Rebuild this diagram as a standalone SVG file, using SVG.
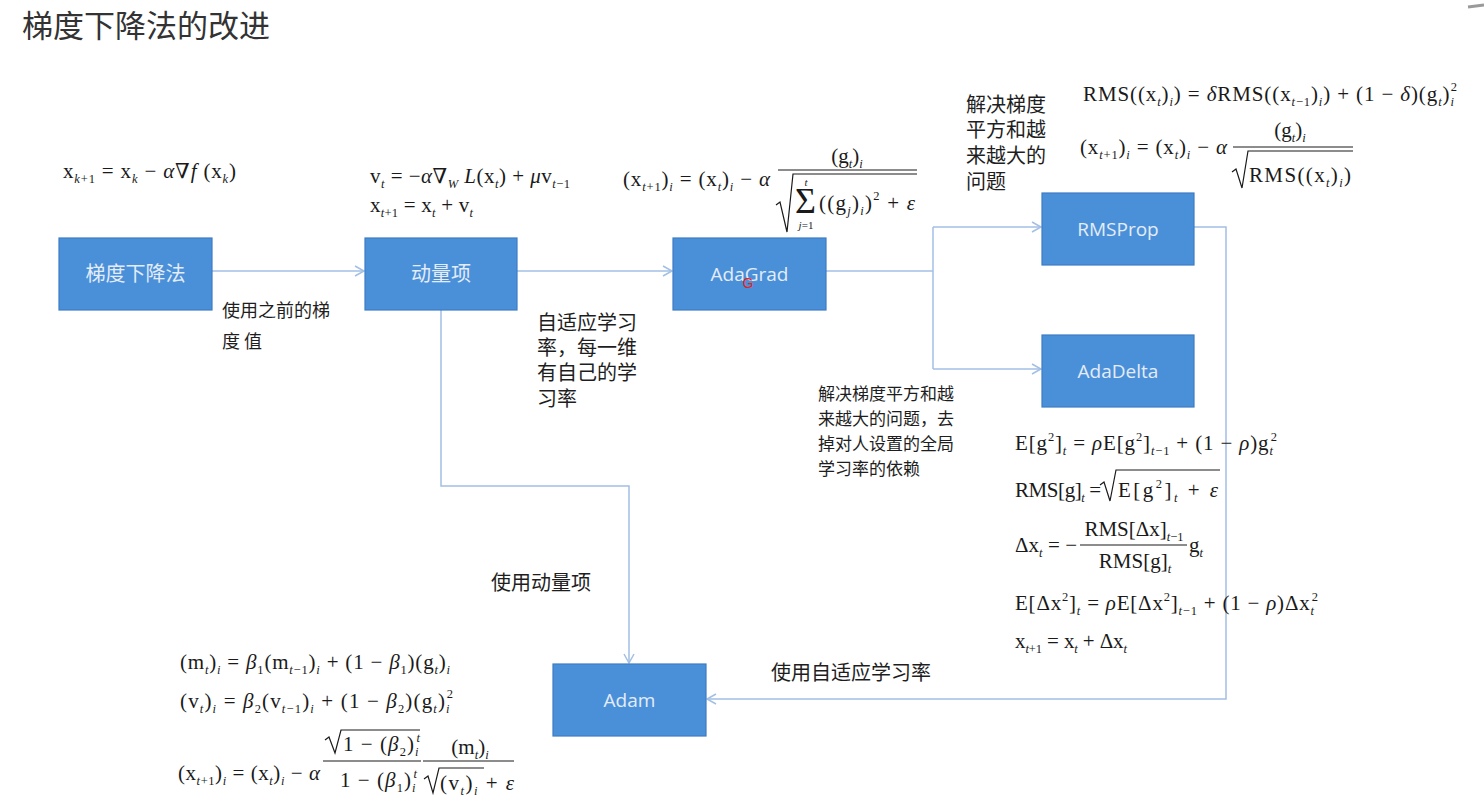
<svg xmlns="http://www.w3.org/2000/svg" width="1484" height="807" viewBox="0 0 1484 807">
<defs>
<style>
.bg{fill:#ffffff}
.box rect{fill:#4a90d9;stroke:#3d7cc3;stroke-width:1.2}
.bt{font-family:"Open Sans","Noto Sans","Noto Sans CJK SC",sans-serif;font-size:19px;fill:#e4ecf7;text-anchor:middle}
.btc{font-family:"Noto Sans CJK SC","Noto Sans",sans-serif;font-size:20px;fill:#e4ecf7;text-anchor:middle}
.lb{font-family:"Noto Sans CJK SC","Noto Sans",sans-serif;fill:#1e1e1e}
.conn{fill:none;stroke:#a3bfe4;stroke-width:1.5}
.m{font-family:"Liberation Serif","DejaVu Serif",serif;font-size:21px;fill:#1a1a1a}
.i{font-style:italic}
.s{font-size:12.5px;font-style:italic}
.n{font-size:12.5px;font-style:normal}
.ln{stroke:#1a1a1a;stroke-width:1.2;fill:none}
.title{font-family:"Noto Sans CJK SC","Noto Sans",sans-serif;font-size:31px;fill:#333333}
</style>
<marker id="arr" markerWidth="12" markerHeight="12" refX="10" refY="6" orient="auto" markerUnits="userSpaceOnUse">
<path d="M1,1 L10,6 L1,11" fill="none" stroke="#a3bfe4" stroke-width="1.5"/>
</marker>
</defs>
<rect class="bg" x="0" y="0" width="1484" height="807"/>
<path d="M1468,7 L1484,5" stroke="#9a9a9a" stroke-width="3"/>

<text class="title" x="22" y="37">梯度下降法的改进</text>

<g id="connectors">
<line class="conn" x1="212" y1="271" x2="364" y2="271" marker-end="url(#arr)"/>
<line class="conn" x1="517" y1="271" x2="672" y2="271" marker-end="url(#arr)"/>
<polyline class="conn" points="826,271 933,271"/>
<polyline class="conn" points="933,227 933,369"/>
<line class="conn" x1="933" y1="227" x2="1041" y2="227" marker-end="url(#arr)"/>
<line class="conn" x1="933" y1="369" x2="1041" y2="369" marker-end="url(#arr)"/>
<polyline class="conn" points="441,310 441,486 629,486 629,663" marker-end="url(#arr)"/>
<polyline class="conn" points="1194,227 1226,227 1226,699 707,699" marker-end="url(#arr)"/>
</g>

<g id="node-gd" class="box">
<rect x="59" y="238" width="153" height="72"/>
<text class="btc" x="135.5" y="281">梯度下降法</text>
</g>
<g id="node-momentum" class="box">
<rect x="365" y="238" width="152" height="72"/>
<text class="btc" x="441" y="281">动量项</text>
</g>
<g id="node-adagrad" class="box">
<rect x="673" y="238" width="153" height="72"/>
<text class="bt" x="749.5" y="281">AdaGrad</text>
<text x="748" y="288" font-family="Liberation Sans,sans-serif" font-size="14" fill="#e8201c" text-anchor="middle">G</text>
</g>
<g id="node-rmsprop" class="box">
<rect x="1042" y="193" width="152" height="72"/>
<text class="bt" x="1118" y="236">RMSProp</text>
</g>
<g id="node-adadelta" class="box">
<rect x="1042" y="335" width="152" height="72"/>
<text class="bt" x="1118" y="378">AdaDelta</text>
</g>
<g id="node-adam" class="box">
<rect x="553" y="664" width="153" height="72"/>
<text class="bt" x="629.5" y="707">Adam</text>
</g>

<g id="labels">
<text class="lb" font-size="18" x="222" y="317">使用之前的梯</text>
<text class="lb" font-size="18" x="222" y="348">度 值</text>
<text class="lb" font-size="20" x="537" y="330">自适应学习</text>
<text class="lb" font-size="20" x="537" y="355">率，每一维</text>
<text class="lb" font-size="20" x="537" y="380">有自己的学</text>
<text class="lb" font-size="20" x="537" y="406">习率</text>
<text class="lb" font-size="20" x="966" y="112">解决梯度</text>
<text class="lb" font-size="20" x="966" y="137">平方和越</text>
<text class="lb" font-size="20" x="966" y="163">来越大的</text>
<text class="lb" font-size="20" x="966" y="189">问题</text>
<text class="lb" font-size="17" x="818" y="400">解决梯度平方和越</text>
<text class="lb" font-size="17" x="818" y="425">来越大的问题，去</text>
<text class="lb" font-size="17" x="818" y="450">掉对人设置的全局</text>
<text class="lb" font-size="17" x="818" y="475">学习率的依赖</text>
<text class="lb" font-size="20" x="491" y="590">使用动量项</text>
<text class="lb" font-size="20" x="771" y="680">使用自适应学习率</text>
</g>

<g id="formula-gd">
<text class="m" x="63" y="178" textLength="173" lengthAdjust="spacing">x<tspan class="s" dy="5">k</tspan><tspan class="n">+1</tspan><tspan dy="-5"> = x</tspan><tspan class="s" dy="5">k</tspan><tspan dy="-5"> − </tspan><tspan class="i">α∇f</tspan><tspan> (x</tspan><tspan class="s" dy="5">k</tspan><tspan dy="-5">)</tspan></text>
</g>

<g id="formula-momentum">
<text class="m" x="370" y="183" textLength="200" lengthAdjust="spacing">v<tspan class="s" dy="5">t</tspan><tspan dy="-5"> = −</tspan><tspan class="i">α∇</tspan><tspan class="s" dy="5">W</tspan><tspan class="i" dy="-5"> L</tspan><tspan>(x</tspan><tspan class="s" dy="5">t</tspan><tspan dy="-5">) + </tspan><tspan class="i">μ</tspan><tspan>v</tspan><tspan class="s" dy="5">t</tspan><tspan class="n">−1</tspan></text>
<text class="m" x="370" y="212" textLength="103" lengthAdjust="spacing">x<tspan class="s" dy="5">t</tspan><tspan class="n">+1</tspan><tspan dy="-5"> = x</tspan><tspan class="s" dy="5">t</tspan><tspan dy="-5"> + v</tspan><tspan class="s" dy="5">t</tspan></text>
</g>

<g id="formula-adagrad">
<text class="m" x="623" y="186" textLength="147" lengthAdjust="spacing">(x<tspan class="s" dy="5">t</tspan><tspan class="n">+1</tspan><tspan dy="-5">)</tspan><tspan class="s" dy="5">i</tspan><tspan dy="-5"> = (x</tspan><tspan class="s" dy="5">t</tspan><tspan dy="-5">)</tspan><tspan class="s" dy="5">i</tspan><tspan dy="-5"> − </tspan><tspan class="i">α</tspan></text>
<text class="m" x="847" y="163" text-anchor="middle">(g<tspan class="s" dy="5">t</tspan><tspan dy="-5">)</tspan><tspan class="s" dy="5">i</tspan></text>
<line class="ln" x1="778" y1="170" x2="917" y2="170"/>
<polyline class="ln" points="776,205 780,202 787,232 793,174 917,174"/>
<text class="m" x="795" y="213" style="font-size:36px">Σ</text>
<text class="m" x="806" y="186" style="font-size:11px;font-style:italic" text-anchor="middle">t</text>
<text class="m" x="806" y="229" style="font-size:11px" text-anchor="middle"><tspan class="i" style="font-size:11px">j</tspan>=1</text>
<text class="m" x="819" y="210" textLength="96" lengthAdjust="spacing">((g<tspan class="s" dy="5">j</tspan><tspan dy="-5">)</tspan><tspan class="s" dy="5">i</tspan><tspan dy="-5">)</tspan><tspan class="n" dy="-10">2</tspan><tspan dy="10"> + </tspan><tspan class="i">ε</tspan></text>
</g>

<g id="formula-rmsprop">
<text class="m" x="1083" y="101" textLength="374" lengthAdjust="spacing">RMS((x<tspan class="s" dy="5">t</tspan><tspan dy="-5">)</tspan><tspan class="s" dy="5">i</tspan><tspan dy="-5">) = </tspan><tspan class="i">δ</tspan><tspan>RMS((x</tspan><tspan class="s" dy="5">t</tspan><tspan class="n">−1</tspan><tspan dy="-5">)</tspan><tspan class="s" dy="5">i</tspan><tspan dy="-5">) + (1 − </tspan><tspan class="i">δ</tspan><tspan>)(g</tspan><tspan class="s" dy="5">t</tspan><tspan dy="-5">)</tspan><tspan class="s" dy="5">i</tspan><tspan class="n" dx="-4" dy="-15">2</tspan></text>
<text class="m" x="1080" y="154" textLength="147" lengthAdjust="spacing">(x<tspan class="s" dy="5">t</tspan><tspan class="n">+1</tspan><tspan dy="-5">)</tspan><tspan class="s" dy="5">i</tspan><tspan dy="-5"> = (x</tspan><tspan class="s" dy="5">t</tspan><tspan dy="-5">)</tspan><tspan class="s" dy="5">i</tspan><tspan dy="-5"> − </tspan><tspan class="i">α</tspan></text>
<text class="m" x="1290" y="137" text-anchor="middle">(g<tspan class="s" dy="5">t</tspan><tspan dy="-5">)</tspan><tspan class="s" dy="5">i</tspan></text>
<line class="ln" x1="1233" y1="147" x2="1353" y2="147"/>
<polyline class="ln" points="1232,172 1236,169 1242,188 1248,151 1353,151"/>
<text class="m" x="1249" y="182" textLength="102" lengthAdjust="spacing">RMS((x<tspan class="s" dy="5">t</tspan><tspan dy="-5">)</tspan><tspan class="s" dy="5">i</tspan><tspan dy="-5">)</tspan></text>
</g>

<g id="formula-adadelta">
<text class="m" x="1015" y="450" textLength="262" lengthAdjust="spacing">E[g<tspan class="n" dy="-9">2</tspan><tspan dy="9">]</tspan><tspan class="s" dy="5">t</tspan><tspan dy="-5"> = </tspan><tspan class="i">ρ</tspan><tspan>E[g</tspan><tspan class="n" dy="-9">2</tspan><tspan dy="9">]</tspan><tspan class="s" dy="5">t</tspan><tspan class="n">−1</tspan><tspan dy="-5"> + (1 − </tspan><tspan class="i">ρ</tspan><tspan>)g</tspan><tspan class="s" dy="5">t</tspan><tspan class="n" dx="-3" dy="-14">2</tspan></text>
<text class="m" x="1015" y="497" textLength="86" lengthAdjust="spacing">RMS[g]<tspan class="s" dy="5">t</tspan><tspan dy="-5"> =</tspan></text>
<polyline class="ln" points="1100,485 1104,482 1110,501 1116,470 1220,470"/>
<text class="m" x="1118" y="497" textLength="100" lengthAdjust="spacing">E[g<tspan class="n" dy="-9">2</tspan><tspan dy="9">]</tspan><tspan class="s" dy="5">t</tspan><tspan dy="-5"> + </tspan><tspan class="i">ε</tspan></text>
<text class="m" x="1015" y="552" textLength="62" lengthAdjust="spacing">Δx<tspan class="s" dy="5">t</tspan><tspan dy="-5"> = −</tspan></text>
<text class="m" x="1134" y="536" text-anchor="middle">RMS[Δx]<tspan class="s" dy="5">t</tspan><tspan class="n">−1</tspan></text>
<line class="ln" x1="1080" y1="545" x2="1187" y2="545"/>
<text class="m" x="1135" y="568" text-anchor="middle">RMS[g]<tspan class="s" dy="5">t</tspan></text>
<text class="m" x="1189" y="552">g<tspan class="s" dy="5">t</tspan></text>
<text class="m" x="1015" y="610" textLength="303" lengthAdjust="spacing">E[Δx<tspan class="n" dy="-9">2</tspan><tspan dy="9">]</tspan><tspan class="s" dy="5">t</tspan><tspan dy="-5"> = </tspan><tspan class="i">ρ</tspan><tspan>E[Δx</tspan><tspan class="n" dy="-9">2</tspan><tspan dy="9">]</tspan><tspan class="s" dy="5">t</tspan><tspan class="n">−1</tspan><tspan dy="-5"> + (1 − </tspan><tspan class="i">ρ</tspan><tspan>)Δx</tspan><tspan class="s" dy="5">t</tspan><tspan class="n" dx="-3" dy="-14">2</tspan></text>
<text class="m" x="1015" y="648" textLength="112" lengthAdjust="spacing">x<tspan class="s" dy="5">t</tspan><tspan class="n">+1</tspan><tspan dy="-5"> = x</tspan><tspan class="s" dy="5">t</tspan><tspan dy="-5"> + Δx</tspan><tspan class="s" dy="5">t</tspan></text>
</g>

<g id="formula-adam">
<text class="m" x="180" y="669" textLength="270" lengthAdjust="spacing">(m<tspan class="s" dy="5">t</tspan><tspan dy="-5">)</tspan><tspan class="s" dy="5">i</tspan><tspan dy="-5"> = </tspan><tspan class="i">β</tspan><tspan class="n" dy="5">1</tspan><tspan dy="-5">(m</tspan><tspan class="s" dy="5">t</tspan><tspan class="n">−1</tspan><tspan dy="-5">)</tspan><tspan class="s" dy="5">i</tspan><tspan dy="-5"> + (1 − </tspan><tspan class="i">β</tspan><tspan class="n" dy="5">1</tspan><tspan dy="-5">)(g</tspan><tspan class="s" dy="5">t</tspan><tspan dy="-5">)</tspan><tspan class="s" dy="5">i</tspan></text>
<text class="m" x="180" y="708" textLength="273" lengthAdjust="spacing">(v<tspan class="s" dy="5">t</tspan><tspan dy="-5">)</tspan><tspan class="s" dy="5">i</tspan><tspan dy="-5"> = </tspan><tspan class="i">β</tspan><tspan class="n" dy="5">2</tspan><tspan dy="-5">(v</tspan><tspan class="s" dy="5">t</tspan><tspan class="n">−1</tspan><tspan dy="-5">)</tspan><tspan class="s" dy="5">i</tspan><tspan dy="-5"> + (1 − </tspan><tspan class="i">β</tspan><tspan class="n" dy="5">2</tspan><tspan dy="-5">)(g</tspan><tspan class="s" dy="5">t</tspan><tspan dy="-5">)</tspan><tspan class="s" dy="5">i</tspan><tspan class="n" dx="-4" dy="-15">2</tspan></text>
<text class="m" x="178" y="780" textLength="142" lengthAdjust="spacing">(x<tspan class="s" dy="5">t</tspan><tspan class="n">+1</tspan><tspan dy="-5">)</tspan><tspan class="s" dy="5">i</tspan><tspan dy="-5"> = (x</tspan><tspan class="s" dy="5">t</tspan><tspan dy="-5">)</tspan><tspan class="s" dy="5">i</tspan><tspan dy="-5"> − </tspan><tspan class="i">α</tspan></text>
<polyline class="ln" points="325,740 329,737 335,753 341,730 420,730"/>
<text class="m" x="343" y="751" textLength="77" lengthAdjust="spacing">1 − (<tspan class="i">β</tspan><tspan class="n" dy="5">2</tspan><tspan dy="-5">)</tspan><tspan class="s" dy="5">i</tspan><tspan class="s" dx="-3" dy="-14">t</tspan></text>
<line class="ln" x1="323" y1="761" x2="421" y2="761"/>
<text class="m" x="340" y="787" textLength="77" lengthAdjust="spacing">1 − (<tspan class="i">β</tspan><tspan class="n" dy="5">1</tspan><tspan dy="-5">)</tspan><tspan class="s" dy="5">i</tspan><tspan class="s" dx="-3" dy="-14">t</tspan></text>
<text class="m" x="470" y="754" text-anchor="middle">(m<tspan class="s" dy="5">t</tspan><tspan dy="-5">)</tspan><tspan class="s" dy="5">i</tspan></text>
<line class="ln" x1="423" y1="761" x2="514" y2="761"/>
<polyline class="ln" points="424,779 428,776 433,793 439,768 484,768"/>
<text class="m" x="440" y="790" textLength="74" lengthAdjust="spacing">(v<tspan class="s" dy="5">t</tspan><tspan dy="-5">)</tspan><tspan class="s" dy="5">i</tspan><tspan dy="-5"> + </tspan><tspan class="i">ε</tspan></text>
</g>
</svg>
